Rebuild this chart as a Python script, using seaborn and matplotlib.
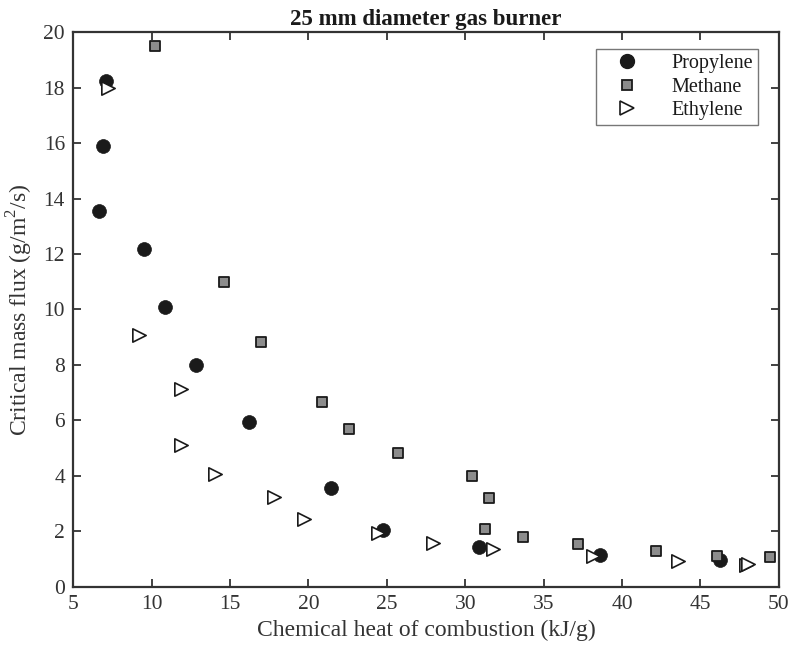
import matplotlib
matplotlib.use("Agg")
import matplotlib.pyplot as plt
from matplotlib.lines import Line2D
import numpy as np
import pandas as pd
import seaborn as sns

# Measured critical mass flux vs chemical heat of combustion
propylene_x = [7.06, 6.87, 6.65, 9.50, 10.83, 12.80, 16.20, 21.42, 24.74, 30.90, 38.60, 46.26]
propylene_y = [18.24, 15.89, 13.55, 12.17, 10.08, 8.01, 5.94, 3.58, 2.05, 1.45, 1.15, 0.97]

methane_x = [10.21, 14.61, 16.97, 20.87, 22.57, 25.69, 30.44, 31.54, 31.27, 33.67, 37.22, 42.16, 46.09, 49.45]
methane_y = [19.50, 10.98, 8.83, 6.68, 5.68, 4.82, 4.01, 3.20, 2.09, 1.81, 1.55, 1.30, 1.12, 1.07]

ethylene_x = [7.23, 9.20, 11.87, 11.87, 14.06, 17.78, 19.74, 24.46, 27.97, 31.80, 38.18, 43.57, 47.92, 48.02]
ethylene_y = [17.97, 9.08, 7.15, 5.11, 4.08, 3.25, 2.44, 1.93, 1.57, 1.36, 1.12, 0.93, 0.80, 0.84]

x_ticks = [5, 10, 15, 20, 25, 30, 35, 40, 45, 50]
y_ticks = [0, 2, 4, 6, 8, 10, 12, 14, 16, 18, 20]

sns.set_style("ticks")
plt.rcParams["font.family"] = ["Liberation Serif", "DejaVu Serif"]
plt.rcParams["mathtext.fontset"] = "custom"
plt.rcParams["mathtext.rm"] = "Liberation Serif"

axis_color = "#333333"

fig = plt.figure(figsize=(7.89, 6.55), dpi=100)
ax = fig.add_axes([0.093, 0.104, 0.894, 0.847])

df_p = pd.DataFrame({"x": propylene_x, "y": propylene_y})
df_m = pd.DataFrame({"x": methane_x, "y": methane_y})
df_e = pd.DataFrame({"x": ethylene_x, "y": ethylene_y})

sns.scatterplot(data=df_p, x="x", y="y", ax=ax, marker="o", s=10.0**2,
                color="#1a1a1a", edgecolor="#1a1a1a", linewidth=0.5, zorder=3)
sns.scatterplot(data=df_m, x="x", y="y", ax=ax, marker="s", s=7.2**2,
                color="#8c8c8c", edgecolor="#1a1a1a", linewidth=1.3, zorder=3)
sns.scatterplot(data=df_e, x="x", y="y", ax=ax, marker=">", s=9.6**2,
                facecolor="white", edgecolor="#1a1a1a", linewidth=1.2, zorder=4)

ax.set_xlim(5, 50)
ax.set_ylim(0, 20)
ax.set_xticks(x_ticks)
ax.set_yticks(y_ticks)
ax.tick_params(axis="both", direction="in", length=6, width=1.3, color=axis_color,
               labelsize=15.5, labelcolor="#333333", top=True, right=True, pad=6)
for side in ["left", "right", "top", "bottom"]:
    ax.spines[side].set_visible(True)
    ax.spines[side].set_color(axis_color)
    ax.spines[side].set_linewidth(1.6)

ax.set_xlabel("Chemical heat of combustion (kJ/g)", fontsize=17, color="#333333", labelpad=4)
ax.set_ylabel("Critical mass flux (g/m$^2$/s)", fontsize=17, color="#333333", labelpad=6)
ax.set_title("25 mm diameter gas burner", fontsize=16.5, fontweight="bold", color="#1a1a1a", pad=5)

handles = [
    Line2D([], [], linestyle="none", marker="o", markersize=10.0,
           markerfacecolor="#1a1a1a", markeredgecolor="#1a1a1a", label="Propylene"),
    Line2D([], [], linestyle="none", marker="s", markersize=7.2,
           markerfacecolor="#8c8c8c", markeredgecolor="#1a1a1a", markeredgewidth=1.3, label="Methane"),
    Line2D([], [], linestyle="none", marker=">", markersize=9.6,
           markerfacecolor="white", markeredgecolor="#1a1a1a", markeredgewidth=1.2, label="Ethylene"),
]
leg = ax.legend(handles=handles, loc="upper right", bbox_to_anchor=(0.971, 0.969),
                borderaxespad=0, fontsize=14.5, frameon=True, fancybox=False,
                handlelength=2.6, handletextpad=0.9, borderpad=0.25, labelspacing=0.2)
leg.get_frame().set_edgecolor("#555555")
leg.get_frame().set_linewidth(1.0)
for t in leg.get_texts():
    t.set_color("#1a1a1a")

fig.savefig("out.png", dpi=100)
